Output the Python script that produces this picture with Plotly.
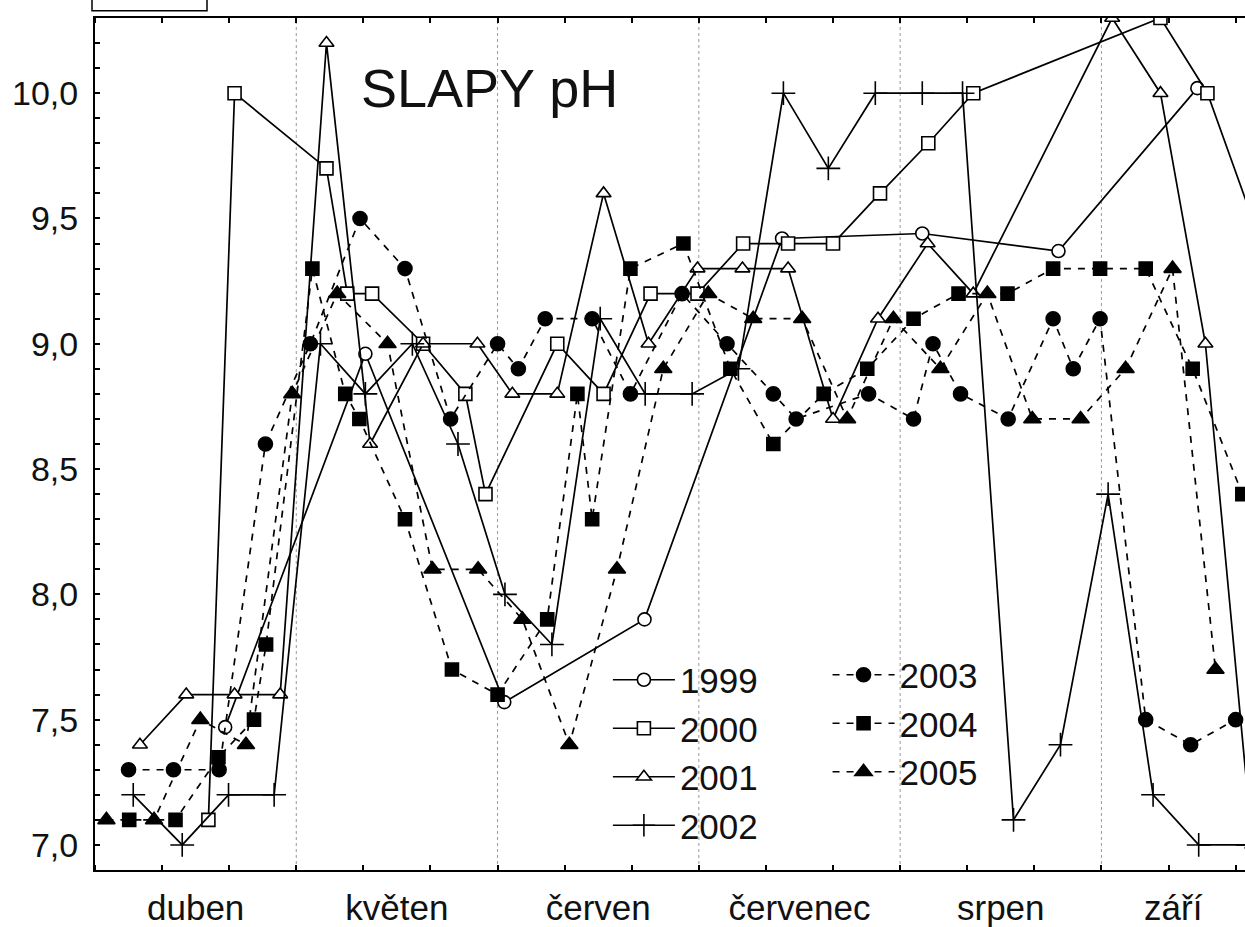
import plotly.graph_objects as go

# x = sampling day counted from 1 April (each month = 30 days on the axis)
x1999 = [19.4, 40.3, 61.0, 81.9, 102.4, 123.3, 143.6, 164.3]
y1999 = [7.47, 8.96, 7.57, 7.90, 9.42, 9.44, 9.37, 10.02]

x2000 = [16.9, 20.8, 34.5, 37.6, 41.3, 48.9, 55.2, 58.2, 68.9, 75.8, 82.8,
         89.8, 96.6, 103.3, 110.0, 117.0, 124.2, 130.9, 158.8, 165.8, 172.5]
y2000 = [7.1, 10.0, 9.7, 9.2, 9.2, 9.0, 8.8, 8.4, 9.0, 8.8, 9.2,
         9.2, 9.4, 9.4, 9.4, 9.6, 9.8, 10.0, 10.3, 10.0, 9.5]

x2001 = [6.7, 13.6, 20.8, 27.6, 34.5, 41.0, 48.9, 57.0, 62.2, 68.9, 75.8, 82.5,
         89.8, 96.5, 103.3, 110.0, 116.7, 124.1, 130.9, 151.6, 158.8, 165.5, 172.5]
y2001 = [7.4, 7.6, 7.6, 7.6, 10.2, 8.6, 9.0, 9.0, 8.8, 8.8, 9.6, 9.0,
         9.3, 9.3, 9.3, 8.7, 9.1, 9.4, 9.2, 10.3, 10.0, 9.0, 7.0]

x2002 = [5.7, 13.0, 19.9, 26.7, 33.6, 40.3, 47.3, 54.1, 61.1, 68.1, 75.3, 82.0, 89.0,
         95.9, 102.6, 109.3, 116.3, 123.3, 129.3, 136.9, 143.9, 151.0, 157.7, 164.5, 171.8]
y2002 = [7.2, 7.0, 7.2, 7.2, 9.0, 8.8, 9.0, 8.6, 8.0, 7.8, 9.1, 8.8, 8.8,
         8.9, 10.0, 9.7, 10.0, 10.0, 10.0, 7.1, 7.4, 8.4, 7.2, 7.0, 7.0]

x2003 = [5.0, 11.7, 18.5, 25.4, 32.1, 39.5, 46.2, 53.0, 60.0, 63.1, 67.1, 74.1, 79.8, 87.5,
         94.2, 101.1, 104.5, 115.3, 122.0, 124.9, 129.0, 136.1, 142.8, 145.8, 149.8,
         156.6, 163.3, 170.0]
y2003 = [7.3, 7.3, 7.3, 8.6, 9.0, 9.5, 9.3, 8.7, 9.0, 8.9, 9.1, 9.1, 8.8, 9.2,
         9.0, 8.8, 8.7, 8.8, 8.7, 9.0, 8.8, 8.7, 9.1, 8.9, 9.1,
         7.5, 7.4, 7.5]

x2004 = [5.1, 12.0, 18.4, 23.7, 25.5, 32.4, 37.3, 39.4, 46.2, 53.2, 60.0, 67.4, 71.9, 74.1,
         79.8, 87.7, 94.7, 101.1, 108.6, 115.1, 122.0, 128.7, 136.0, 142.8, 149.8, 156.6,
         163.6, 171.0]
y2004 = [7.1, 7.1, 7.35, 7.5, 7.8, 9.3, 8.8, 8.7, 8.3, 7.7, 7.6, 7.9, 8.8, 8.3,
         9.3, 9.4, 8.9, 8.6, 8.8, 8.9, 9.1, 9.2, 9.2, 9.3, 9.3, 9.3,
         8.9, 8.4]

x2005 = [1.7, 8.8, 15.7, 22.5, 29.4, 36.1, 43.6, 50.3, 57.1, 63.7, 70.7, 77.8, 84.7,
         91.4, 98.1, 105.4, 112.1, 119.0, 126.0, 133.0, 139.7, 146.9, 153.6, 160.6, 167.0]
y2005 = [7.1, 7.1, 7.5, 7.4, 8.8, 9.2, 9.0, 8.1, 8.1, 7.9, 7.4, 8.1, 8.9,
         9.2, 9.1, 9.1, 8.7, 9.1, 8.9, 9.2, 8.7, 8.7, 8.9, 9.3, 7.7]

months = ["duben", "květen", "červen", "červenec", "srpen", "září"]
month_label_pos = [15, 45, 75, 105, 135, 160.7]
month_bounds = [30, 60, 90, 120, 150]

series = [
    ("1999", x1999, y1999, "circle", "white", 13, "solid", "legend"),
    ("2000", x2000, y2000, "square", "white", 13, "solid", "legend"),
    ("2001", x2001, y2001, "triangle-up", "white", 13, "solid", "legend"),
    ("2002", x2002, y2002, "cross-thin", "black", 17, "solid", "legend"),
    ("2003", x2003, y2003, "circle", "black", 14, "7px,7px", "legend2"),
    ("2004", x2004, y2004, "square", "black", 13, "7px,7px", "legend2"),
    ("2005", x2005, y2005, "triangle-up", "black", 15, "7px,7px", "legend2"),
]

fig = go.Figure()
for name, xs, ys, sym, fill, size, dash, leg in series:
    fig.add_trace(go.Scatter(
        x=xs, y=ys, name=name, mode="lines+markers", legend=leg,
        line=dict(color="black", width=1.7, dash=dash),
        marker=dict(symbol=sym, size=size, color=fill,
                    line=dict(color="black", width=1.6)),
    ))

shapes = []
for b in month_bounds:
    shapes.append(dict(type="line", xref="x", yref="paper", x0=b, x1=b, y0=0, y1=1,
                       line=dict(color="#9a9a9a", width=1, dash="dot"), layer="below"))
shapes.append(dict(type="rect", xref="paper", yref="paper", x0=-0.0026, x1=0.0974,
                   y0=1.0085, y1=1.03, line=dict(color="black", width=1.5),
                   fillcolor="white"))

fig.update_layout(
    width=1245, height=927,
    margin=dict(l=95, r=0, t=18, b=55),
    paper_bgcolor="white", plot_bgcolor="white",
    font=dict(family="Liberation Sans", color="#111", size=35),
    separators=",.",
    shapes=shapes,
    annotations=[dict(text="SLAPY pH", x=0.343, y=0.918, xref="paper", yref="paper",
                      showarrow=False, xanchor="center", yanchor="middle",
                      font=dict(size=54, color="#111"))],
    legend=dict(x=0.446, y=0.2576, xanchor="left", yanchor="top",
                bgcolor="rgba(0,0,0,0)", font=dict(size=35), itemwidth=62,
                tracegroupgap=0),
    legend2=dict(x=0.637, y=0.2635, xanchor="left", yanchor="top",
                 bgcolor="rgba(0,0,0,0)", font=dict(size=35), itemwidth=62,
                 tracegroupgap=0),
    xaxis=dict(range=[0, 171.4], tickvals=month_label_pos, ticktext=months,
               ticks="", showgrid=False, zeroline=False,
               showline=True, linecolor="black", linewidth=2, mirror="ticks",
               tickfont=dict(size=35), ticklabelstandoff=6,
               minor=dict(tick0=0, dtick=10, ticks="inside", ticklen=5,
                          tickcolor="black", tickwidth=1.5, showgrid=False)),
    yaxis=dict(range=[6.9, 10.3], tick0=7, dtick=0.5, tickformat=".1f",
               ticks="inside", ticklen=5, tickcolor="black", tickwidth=1.5,
               showgrid=False, zeroline=False, showline=True, linecolor="black",
               linewidth=2, tickfont=dict(size=34), ticklabelstandoff=8,
               minor=dict(tick0=7, dtick=0.1, ticks="inside", ticklen=5,
                          tickcolor="black", tickwidth=1.5, showgrid=False)),
)

fig.write_html("out.html")
